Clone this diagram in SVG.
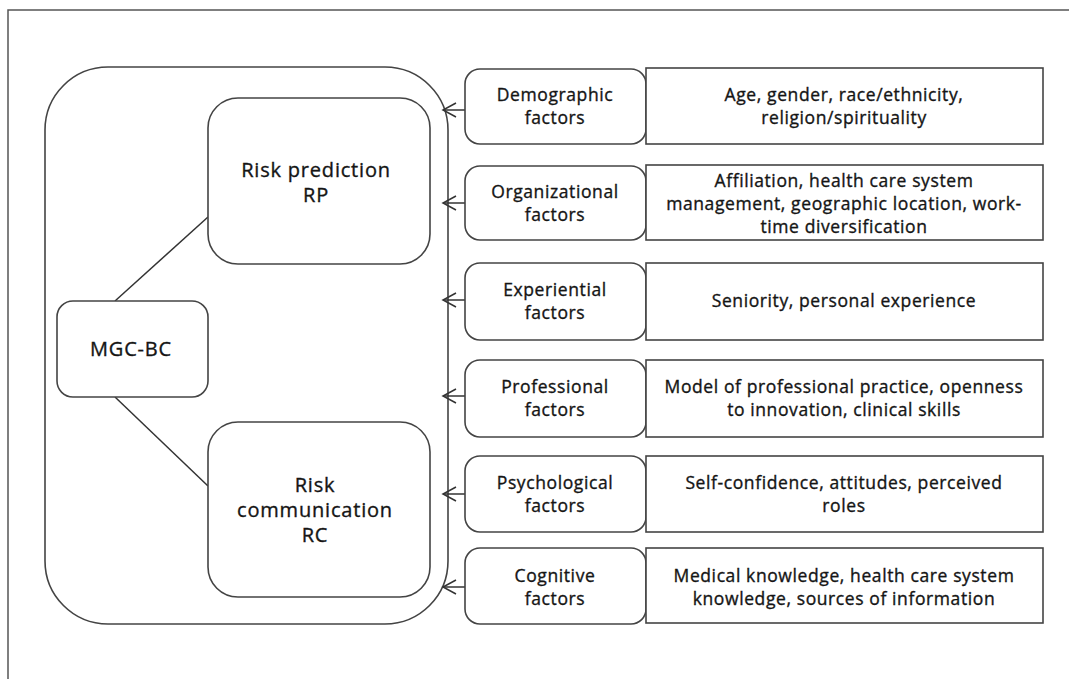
<svg xmlns="http://www.w3.org/2000/svg" width="1069" height="679" viewBox="0 0 1069 679">
  <style>
    .box { fill: #ffffff; stroke: #444444; stroke-width: 1.6; }
    .edge { fill: none; stroke: #333333; stroke-width: 1.5; }
    .frame { fill: none; stroke: #555555; stroke-width: 1.5; }
    text { font-family: "Open Sans", "Liberation Sans", sans-serif; font-size: 17.5px; letter-spacing: 0.6px; fill: #151515; stroke: #151515; stroke-width: 0.35; text-anchor: middle; }
    .big { font-size: 20px; letter-spacing: 0.8px; }
  </style>
  <defs>
    <marker id="open-arrow" markerUnits="userSpaceOnUse" markerWidth="16" markerHeight="18" refX="14" refY="8" orient="auto">
      <path d="M1,1 L14,8 L1,15" fill="none" stroke="#333333" stroke-width="1.5"/>
    </marker>
  </defs>

  <rect width="1069" height="679" fill="#ffffff"/>
  <!-- page frame -->
  <path class="frame" d="M8,679 L8,10 L1069,10"/>

  <!-- container of the MGC-BC model -->
  <g id="model">
    <rect class="box" x="45" y="67" width="403" height="557" rx="63" ry="63"/>
  </g>

  <!-- links inside the model and arrows from each factor group -->
  <g id="connectors">
    <line class="edge" x1="115" y1="301" x2="208" y2="217"/>
    <line class="edge" x1="115" y1="397" x2="208" y2="486"/>
    <line class="edge" x1="483" y1="110" x2="443" y2="110" marker-end="url(#open-arrow)"/>
    <line class="edge" x1="483" y1="203" x2="443" y2="203" marker-end="url(#open-arrow)"/>
    <line class="edge" x1="483" y1="300" x2="443" y2="300" marker-end="url(#open-arrow)"/>
    <line class="edge" x1="483" y1="396" x2="443" y2="396" marker-end="url(#open-arrow)"/>
    <line class="edge" x1="483" y1="494" x2="443" y2="494" marker-end="url(#open-arrow)"/>
    <line class="edge" x1="483" y1="587" x2="443" y2="587" marker-end="url(#open-arrow)"/>
  </g>

  <g id="rp">
    <rect class="box" x="208" y="98" width="222" height="166" rx="30" ry="30"/>
    <text class="big" x="316" y="177">Risk prediction</text>
    <text class="big" x="316" y="202">RP</text>
  </g>

  <g id="mgc-bc">
    <rect class="box" x="57" y="301" width="151" height="96" rx="16" ry="16"/>
    <text class="big" x="131" y="356">MGC-BC</text>
  </g>

  <g id="rc">
    <rect class="box" x="208" y="422" width="222" height="175" rx="30" ry="30"/>
    <text class="big" x="315" y="492">Risk</text>
    <text class="big" x="315" y="517">communication</text>
    <text class="big" x="315" y="542">RC</text>
  </g>

  <g id="demographic">
    <rect class="box" x="465" y="69" width="181" height="75" rx="15" ry="15"/>
    <text x="555" y="101">Demographic</text>
    <text x="555" y="124">factors</text>
    <rect class="box" x="646" y="68" width="397" height="76"/>
    <text x="844" y="101">Age, gender, race/ethnicity,</text>
    <text x="844" y="124">religion/spirituality</text>
  </g>

  <g id="organizational">
    <rect class="box" x="465" y="166" width="181" height="74" rx="15" ry="15"/>
    <text x="555" y="198">Organizational</text>
    <text x="555" y="221">factors</text>
    <rect class="box" x="646" y="165" width="397" height="75"/>
    <text x="844" y="187">Affiliation, health care system</text>
    <text x="844" y="210">management, geographic location, work-</text>
    <text x="844" y="233">time diversification</text>
  </g>

  <g id="experiential">
    <rect class="box" x="465" y="263" width="181" height="77" rx="15" ry="15"/>
    <text x="555" y="296">Experiential</text>
    <text x="555" y="319">factors</text>
    <rect class="box" x="646" y="263" width="397" height="77"/>
    <text x="844" y="307">Seniority, personal experience</text>
  </g>

  <g id="professional">
    <rect class="box" x="465" y="360" width="181" height="77" rx="15" ry="15"/>
    <text x="555" y="393">Professional</text>
    <text x="555" y="416">factors</text>
    <rect class="box" x="646" y="360" width="397" height="77"/>
    <text x="844" y="393">Model of professional practice, openness</text>
    <text x="844" y="416">to innovation, clinical skills</text>
  </g>

  <g id="psychological">
    <rect class="box" x="465" y="456" width="181" height="76" rx="15" ry="15"/>
    <text x="555" y="489">Psychological</text>
    <text x="555" y="512">factors</text>
    <rect class="box" x="646" y="456" width="397" height="76"/>
    <text x="844" y="489">Self-confidence, attitudes, perceived</text>
    <text x="844" y="512">roles</text>
  </g>

  <g id="cognitive">
    <rect class="box" x="465" y="548" width="181" height="76" rx="15" ry="15"/>
    <text x="555" y="582">Cognitive</text>
    <text x="555" y="605">factors</text>
    <rect class="box" x="646" y="548" width="397" height="75"/>
    <text x="844" y="582">Medical knowledge, health care system</text>
    <text x="844" y="605">knowledge, sources of information</text>
  </g>
</svg>
